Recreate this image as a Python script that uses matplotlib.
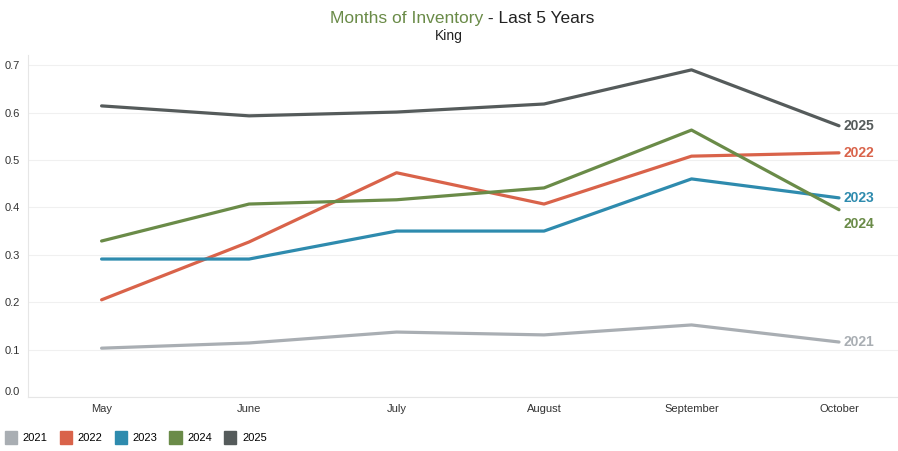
import matplotlib.pyplot as plt
from matplotlib.patches import Patch

plt.rcParams['font.family'] = ['Liberation Sans', 'DejaVu Sans']

months = ['May', 'June', 'July', 'August', 'September', 'October']
years = ['2021', '2022', '2023', '2024', '2025']
inv_2021 = [0.103, 0.114, 0.137, 0.131, 0.152, 0.116]
inv_2022 = [0.205, 0.327, 0.473, 0.407, 0.508, 0.515]
inv_2023 = [0.291, 0.291, 0.350, 0.350, 0.460, 0.420]
inv_2024 = [0.329, 0.407, 0.416, 0.441, 0.563, 0.395]
inv_2025 = [0.614, 0.593, 0.601, 0.618, 0.690, 0.572]
series = [inv_2021, inv_2022, inv_2023, inv_2024, inv_2025]
colors = ['#A9AEB3', '#D9634A', '#2E8BAE', '#6A8B48', '#555B5B']
# label vertical nudges in points (2024 sits below its line end)
label_dy = [0, 0, 0, -10, 0]

fig = plt.figure(figsize=(8.98, 4.51), dpi=100)
ax = fig.add_axes([0.031, 0.1197, 0.969, 0.758])

x = list(range(len(months)))
for yr, vals, c, dy in zip(years, series, colors, label_dy):
    ax.plot(x, vals, color=c, lw=2.3, solid_capstyle='round', zorder=3)
    ax.annotate(yr, (x[-1], vals[-1]), xytext=(3, dy), textcoords='offset points',
                color=c, fontsize=10, fontweight='bold', va='center', ha='left')

ax.set_xlim(-0.5, 5.4)
ax.set_ylim(0, 0.721)
ax.set_yticks([0, 0.1, 0.2, 0.3, 0.4, 0.5, 0.6, 0.7])
ax.set_yticklabels(['0.0', '0.1', '0.2', '0.3', '0.4', '0.5', '0.6', '0.7'])
ax.set_xticks(x)
ax.set_xticklabels(months)
ax.tick_params(axis='both', length=0, labelsize=8, colors='#333333')
ax.tick_params(axis='y', pad=6)
ax.tick_params(axis='x', pad=5)
# bottom label sits a little above the baseline
ax.get_yticklabels()[0].set_va('bottom')
ax.grid(axis='y', color='#F0F0F0', lw=0.8)
ax.set_axisbelow(True)
for s in ['top', 'right']:
    ax.spines[s].set_visible(False)
ax.spines['left'].set_color('#E6E6E6')
ax.spines['bottom'].set_color('#E6E6E6')

fig.text(0.538, 0.958, 'Months of Inventory', ha='right', va='center',
         fontsize=12.5, color='#6A8B48')
fig.text(0.538, 0.958, ' - Last 5 Years', ha='left', va='center',
         fontsize=12.5, color='#222222')
fig.text(0.5, 0.920, 'King', ha='center', va='center', fontsize=10, color='#222222')

handles = [Patch(facecolor=c, edgecolor=c) for c in colors]
fig.legend(handles, years, loc='lower left', bbox_to_anchor=(-0.002, 0.0), ncol=5,
           frameon=False, fontsize=8, handlelength=1.1, handleheight=1.5,
           handletextpad=0.5, columnspacing=1.1, borderaxespad=0.2)

fig.savefig('out.png', dpi=100, facecolor='white')
